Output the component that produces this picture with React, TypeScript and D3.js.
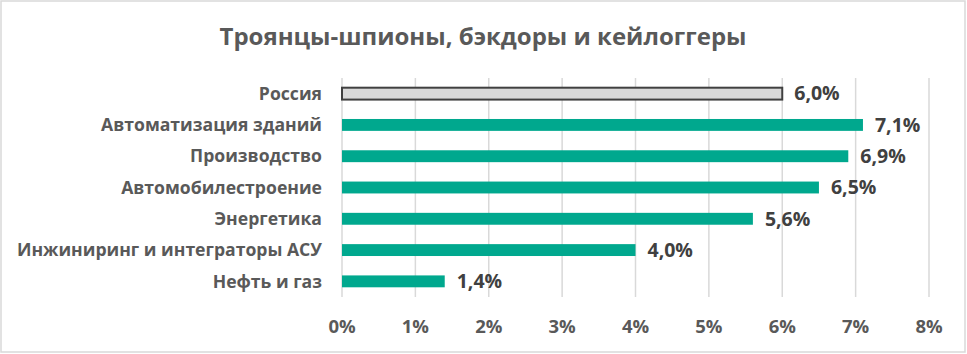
import React from "react";
import * as d3 from "d3";

// chart data
const categories = [
  "Россия",
  "Автоматизация зданий",
  "Производство",
  "Автомобилестроение",
  "Энергетика",
  "Инжиниринг и интеграторы АСУ",
  "Нефть и газ",
];
const values = [6.0, 7.1, 6.9, 6.5, 5.6, 4.0, 1.4];
const xTicks = [0, 1, 2, 3, 4, 5, 6, 7, 8];
const title = "Троянцы-шпионы, бэкдоры и кейлоггеры";

const width = 967;
const height = 354;
const font = "'Open Sans', 'Noto Sans', sans-serif";

export default function App() {
  const x = d3.scaleLinear().domain([0, 8]).range([342, 929]);
  const y = d3
    .scaleBand<string>()
    .domain(categories)
    .range([78, 297])
    .paddingInner(0.62)
    .paddingOuter(0.31);

  const fmt = (v: number) => v.toFixed(1).replace(".", ",") + "%";

  return (
    <>
      <style>{`body{margin:0}`}</style>
      <svg width={width} height={height} style={{ display: "block" }}>
        <rect x={0} y={0} width={width} height={height} fill="#fff" />
        <rect
          x={1}
          y={1}
          width={964}
          height={351}
          fill="#fff"
          stroke="#d9d9d9"
          strokeWidth={1.5}
        />

        {/* title */}
        <text
          x={483}
          y={45}
          textAnchor="middle"
          fontFamily={font}
          fontWeight="bold"
          fontSize={23.5}
          fill="#595959"
          textLength={527}
          lengthAdjust="spacingAndGlyphs"
        >
          {title}
        </text>

        {/* vertical grid */}
        {xTicks.map((t) => (
          <line
            key={"g" + t}
            x1={x(t)}
            x2={x(t)}
            y1={78}
            y2={297}
            stroke="#d9d9d9"
            strokeWidth={1.5}
          />
        ))}

        {/* bars */}
        {categories.map((c, i) => {
          const isRef = i === 0;
          const by = y(c)!;
          return (
            <g key={c}>
              <rect
                x={x(0)}
                y={by}
                width={x(values[i]) - x(0)}
                height={y.bandwidth()}
                fill={isRef ? "#d9d9d9" : "#00a88e"}
                stroke={isRef ? "#404040" : "none"}
                strokeWidth={isRef ? 2 : 0}
              />
              <text
                x={x(values[i]) + 12}
                y={by + y.bandwidth() / 2}
                dy="0.35em"
                fontFamily={font}
                fontWeight="bold"
                fontSize={19.5}
                fill="#404040"
              >
                {fmt(values[i])}
              </text>
              <text
                x={322}
                y={by + y.bandwidth() / 2}
                dy="0.35em"
                textAnchor="end"
                fontFamily={font}
                fontWeight="bold"
                fontSize={17.6}
                fill="#595959"
              >
                {c}
              </text>
            </g>
          );
        })}

        {/* x axis labels */}
        {xTicks.map((t) => (
          <text
            key={"t" + t}
            x={x(t)}
            y={327}
            dy="0.35em"
            textAnchor="middle"
            fontFamily={font}
            fontWeight="bold"
            fontSize={18.5}
            fill="#595959"
          >
            {t + "%"}
          </text>
        ))}
      </svg>
    </>
  );
}
